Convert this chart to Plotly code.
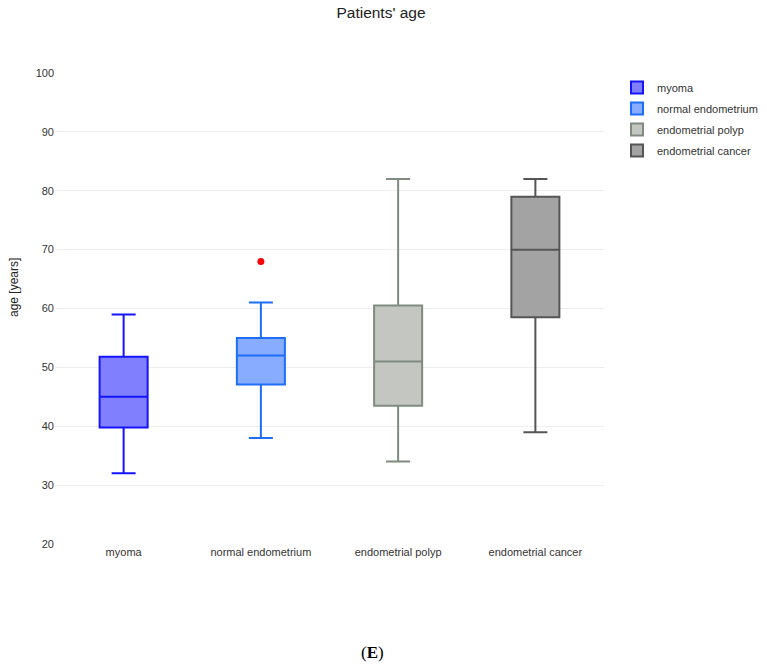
import plotly.graph_objects as go

categories = ["myoma", "normal endometrium", "endometrial polyp", "endometrial cancer"]
lower_fence = [32, 38, 34, 39]
q1_values = [39.8, 47.1, 43.5, 58.5]
median_values = [45, 52, 51, 70]
q3_values = [51.8, 55, 60.5, 79]
upper_fence = [59, 61, 82, 82]
outlier_category = ["normal endometrium"]
outlier_values = [68]

line_colors = ["rgb(20,20,255)", "rgb(30,110,250)", "rgb(128,138,128)", "rgb(85,85,85)"]
fill_colors = ["rgb(128,128,255)", "rgb(136,172,255)", "rgb(196,198,194)", "rgb(163,163,163)"]

W, H = 767, 665
L, T, R, B = 55, 73, 163, 121
plot_w = W - L - R
plot_h = H - T - B


def px_to_paper_x(px):
    return (px - L) / plot_w


def px_to_paper_y(py):
    return (T + plot_h - py) / plot_h


fig = go.Figure()
for i, cat in enumerate(categories):
    fig.add_trace(go.Box(
        x=[cat], name=cat, legendgroup=cat,
        q1=[q1_values[i]], median=[median_values[i]], q3=[q3_values[i]],
        lowerfence=[lower_fence[i]], upperfence=[upper_fence[i]],
        line=dict(color=line_colors[i], width=2),
        fillcolor=fill_colors[i],
        boxpoints=False,
    ))

fig.add_trace(go.Scatter(
    x=outlier_category, y=outlier_values, mode="markers",
    marker=dict(color="red", size=7), showlegend=False,
))

fig.update_layout(
    width=W, height=H,
    margin=dict(l=L, r=R, t=T, b=B, autoexpand=False),
    paper_bgcolor="white", plot_bgcolor="white",
    font=dict(family="Liberation Sans, Arial, sans-serif", size=11, color="#333"),
    title=dict(text="Patients' age", x=381 / W, xref="container", xanchor="center",
               y=1 - 13 / H, yanchor="middle",
               font=dict(size=15.5, color="#222")),
    boxgap=0.5,
    legend=dict(font=dict(size=11, color="#333"), tracegroupgap=2,
                x=px_to_paper_x(617), xanchor="left", y=1, yanchor="top"),
    xaxis=dict(categoryorder="array", categoryarray=categories, showgrid=False,
               zeroline=False, showline=False, tickfont=dict(size=11, color="#333")),
    yaxis=dict(range=[20, 100], dtick=10, showgrid=True, gridcolor="#eeeeee", gridwidth=1,
               zeroline=False, showline=False, tickfont=dict(size=11, color="#333")),
    annotations=[
        dict(text="age [years]", textangle=-90, x=px_to_paper_x(14), y=px_to_paper_y(288),
             xref="paper", yref="paper", xanchor="center", yanchor="middle", showarrow=False,
             font=dict(size=12, color="#222")),
        dict(text="(<b>E</b>)", x=px_to_paper_x(372), y=px_to_paper_y(652),
             xref="paper", yref="paper", xanchor="center", yanchor="middle", showarrow=False,
             font=dict(family="Liberation Serif, Times New Roman, serif", size=17, color="#000")),
    ],
)

fig.write_html("out.html", config={"displayModeBar": False},
               post_script="document.body.style.margin='0';")
